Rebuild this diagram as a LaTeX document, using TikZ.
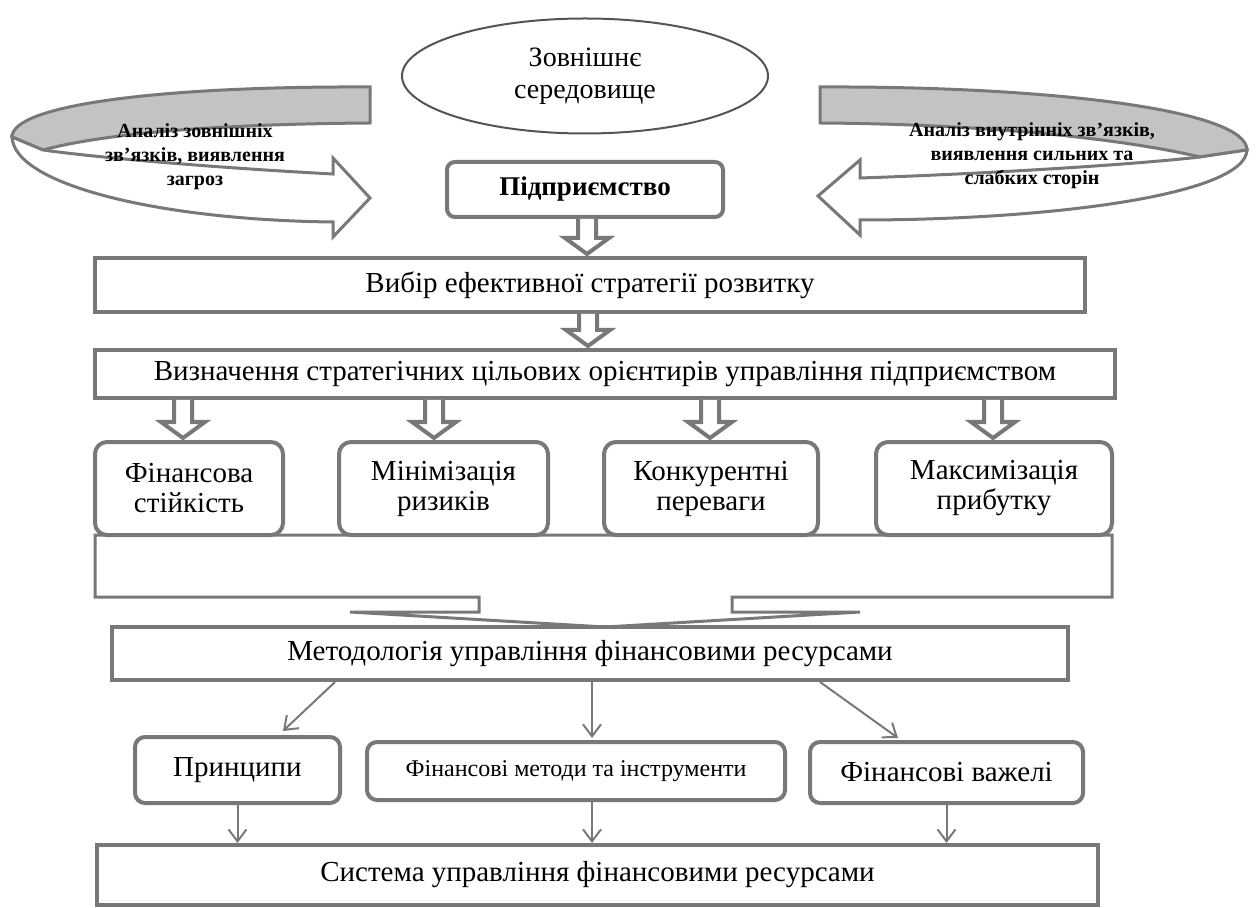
\documentclass[tikz,border=0pt]{standalone}
\usepackage{fontspec}
\setmainfont{Liberation Serif}
\usetikzlibrary{shapes.geometric,arrows.meta,calc}
\definecolor{lg}{RGB}{120,120,120}
\definecolor{bandgray}{RGB}{195,195,195}
\newcommand\blockarrow[3]{%
  \path[draw=lg,line width=2pt,fill=white,line join=miter]
    let \p1=(#1,0), \p2=(#2.south), \p3=(#3.north) in
    (\x1-4.5pt,\y2) -- (\x1-4.5pt,\y3+9pt) -- (\x1-11pt,\y3+9pt) -- (\x1,\y3+1pt)
    -- (\x1+11pt,\y3+9pt) -- (\x1+4.5pt,\y3+9pt) -- (\x1+4.5pt,\y2);
}
\begin{document}
\begin{tikzpicture}[x=0.5pt,y=-0.5pt,
  box/.style={draw=lg,line width=2pt,fill=white,inner sep=0pt,align=center,
    font=\fontsize{14.5}{15}\selectfont},
  rbox/.style={box,rounded corners=6pt},
  ell/.style={ellipse,draw=lg!70!black,line width=1pt,fill=white,inner sep=0pt,
    align=center,font=\fontsize{14}{16}\selectfont},
  ribbon/.style={draw=lg,line width=1.5pt,line join=miter},
  rtext/.style={align=center,font=\bfseries\fontsize{10}{12}\selectfont,inner sep=0pt},
  thinarrow/.style={draw=lg,line width=1pt,-{Straight Barb[length=6pt,width=9pt,line width=1pt]}},
  mergeshape/.style={draw=lg,line width=1.5pt,fill=white,line join=miter}
]
\useasboundingbox (0,0) rectangle (1256,908);

% curved ribbons
\draw[ribbon,fill=bandgray] (370,87) .. controls (160,86) and (12,105) .. (12,137)
  -- (43,150) .. controls (110,132) and (230,124) .. (370,123) -- cycle;
\draw[ribbon,fill=white] (12,137) .. controls (14,185) and (160,220) .. (333,222)
  -- (333,237) -- (370,198) -- (333,158) -- (333,174)
  .. controls (220,168) and (100,158) .. (43,150) -- cycle;
\draw[ribbon,fill=bandgray] (820,87) .. controls (1050,86) and (1247,110) .. (1247,150)
  -- (1200,157) .. controls (1120,138) and (980,124) .. (820,123) -- cycle;
\draw[ribbon,fill=white] (1247,150) .. controls (1245,195) and (1050,220) .. (860,220)
  -- (860,235) -- (818,196) -- (860,160) -- (860,178)
  .. controls (980,174) and (1130,165) .. (1200,157) -- cycle;
\node[rtext] (lt) at (195,157) {Аналіз зовнішніх\\зв'язків, виявлення\\загроз};
\node[rtext] (rt) at (1032,156) {Аналіз внутрінніх зв'язків,\\виявлення сильних та\\слабких сторін};

% top
\node[ell,minimum width=183pt,minimum height=57.5pt] (env) at (585,76) {Зовнішнє\\середовище};
\node[box,rounded corners=4pt,minimum width=138pt,minimum height=27.5pt,
  font=\bfseries\fontsize{13.5}{15}\selectfont] (ent) at (585,189.5) {Підприємство};
\node[box,minimum width=495pt,minimum height=27pt] (choice) at (590,285)
  {Вибір ефективної стратегії розвитку};
\node[box,minimum width=510pt,minimum height=24pt] (goals) at (605,374)
  {Визначення стратегічних цільових орієнтирів управління підприємством};

% merge shape
\draw[mergeshape] (95,535) -- (1112,535) -- (1112,597) -- (732,597) -- (732,612)
  -- (860,612) -- (605,627) -- (350,612) -- (479,612) -- (479,597) -- (95,597) -- cycle;

% four goal boxes
\node[rbox,minimum width=94pt,minimum height=46.5pt] (b1) at (189,488.5) {Фінансова\\стійкість};
\node[rbox,minimum width=104.5pt,minimum height=46.5pt] (b2) at (443.5,488.5) {Мінімізація\\ризиків};
\node[rbox,minimum width=107pt,minimum height=46.5pt] (b3) at (711,488.5) {Конкурентні\\переваги};
\node[rbox,minimum width=118pt,minimum height=46.5pt] (b4) at (994,488.5) {Максимізація\\прибутку};

% block arrows
\blockarrow{587}{ent}{choice}
\blockarrow{588}{choice}{goals}
\blockarrow{183}{goals}{b1}
\blockarrow{434}{goals}{b2}
\blockarrow{710}{goals}{b3}
\blockarrow{993}{goals}{b4}

% methodology
\node[box,minimum width=478pt,minimum height=26.5pt] (meth) at (590,653.5)
  {Методологія управління фінансовими ресурсами};
\node[rbox,rounded corners=5pt,minimum width=102.5pt,minimum height=33pt] (pr) at (237.5,770) {Принципи};
\node[rbox,rounded corners=5pt,minimum width=209pt,minimum height=29pt,
  font=\fontsize{12}{14}\selectfont] (fm) at (576,771) {Фінансові методи та інструменти};
\node[rbox,rounded corners=5pt,minimum width=136.5pt,minimum height=30.5pt] (fv) at (946.5,772.5) {Фінансові важелі};
\node[box,minimum width=500.5pt,minimum height=30pt] (sys) at (597.5,875)
  {Система управління фінансовими ресурсами};

\draw[thinarrow] ([xshift=112.5pt]meth.south west) -- ([xshift=75pt,yshift=2pt]pr.north west);
\draw[thinarrow] ([xshift=241pt]meth.south west) -- ([xshift=113.5pt,yshift=1pt]fm.north west);
\draw[thinarrow] ([xshift=355pt]meth.south west) -- ([xshift=45pt,yshift=1pt]fv.north west);

\coordinate (fmb) at ([xshift=113.5pt]fm.south west);
\draw[thinarrow] (pr.south) -- (pr.south |- sys.north);
\draw[thinarrow] (fmb) -- (fmb |- sys.north);
\draw[thinarrow] (fv.south) -- (fv.south |- sys.north);
\end{tikzpicture}
\end{document}
